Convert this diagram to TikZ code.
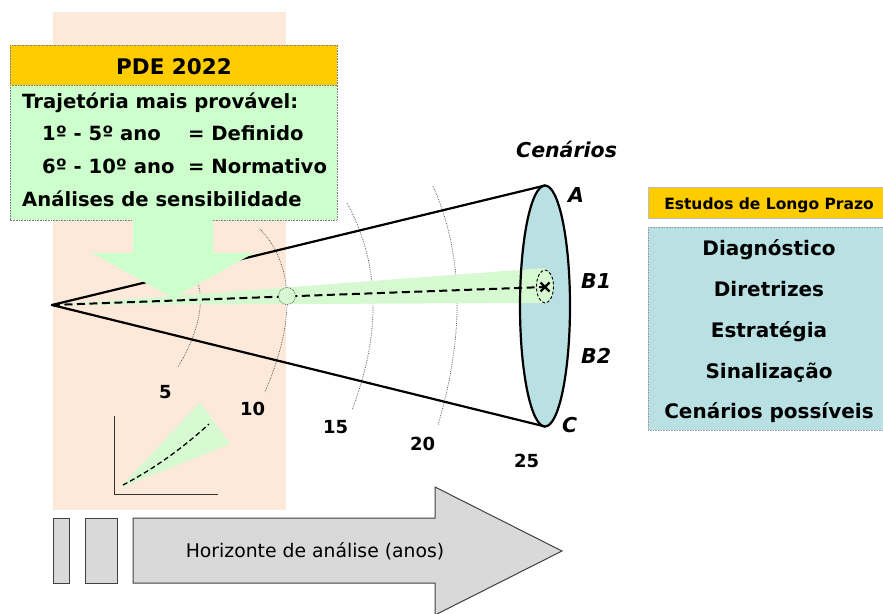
\documentclass[tikz,border=0pt]{standalone}
\usepackage{fontspec}
\setmainfont{DejaVu Sans}
\begin{document}
\begin{tikzpicture}[x=1pt,y=-1pt,
  txt/.style={inner sep=0pt,font=\bfseries\fontsize{19.6}{22}\selectfont},
  lbl/.style={inner sep=0pt,anchor=base west,font=\bfseries\itshape\fontsize{20.5}{24}\selectfont},
  num/.style={inner sep=0pt,anchor=base west,font=\bfseries\fontsize{18}{20}\selectfont},
  lst/.style={inner sep=0pt,anchor=base,font=\bfseries\fontsize{20}{24}\selectfont},
  arcline/.style={draw=black!75,line width=0.7pt,dash pattern=on 0.7pt off 1.1pt},
  coneline/.style={line width=2.2pt,line cap=round},
  graybox/.style={fill=boxgray,draw=black!75,line width=1pt}]
\definecolor{peach}{RGB}{253,233,217}
\definecolor{orng}{RGB}{255,204,0}
\definecolor{lgreen}{RGB}{204,255,204}
\definecolor{beam}{RGB}{214,249,209}
\definecolor{lblue}{RGB}{185,224,227}
\definecolor{boxgray}{RGB}{217,217,217}
\useasboundingbox (0,0) rectangle (883,613);
\clip (0,0) rectangle (883,613);
% background
\fill[peach] (53,12) rectangle (286,510);
% dotted arcs
\draw[arcline] (188,262) .. controls (207.3,288.3) and (204,323.3) .. (178,367);
\draw[arcline] (260,229) .. controls (294.3,265.3) and (296,319.7) .. (265,392);
\draw[arcline] (347,203) .. controls (380,263.3) and (381.7,332.3) .. (352,410);
\draw[arcline] (433,186) .. controls (463.3,254.3) and (465,334) .. (438,425);
% cone
\coordinate (apex) at (52,305);
\coordinate (etop) at (545,185.5);
\coordinate (ebot) at (545,426.5);
\fill[lblue] (545,306) ellipse [x radius=25, y radius=120.5];
\fill[beam] (apex) -- (545,268) -- (545,303) -- cycle;
\fill[beam] (545,286.5) ellipse [x radius=8.5, y radius=16.5];
\draw[line width=2.2pt] (545,306) ellipse [x radius=25, y radius=120.5];
\draw[coneline] (apex) -- (etop);
\draw[coneline] (apex) -- (ebot);
\coordinate (xm) at (545,287);
\draw[line width=2pt,dash pattern=on 8pt off 4.5pt] (apex) -- (xm);
\draw[black,line width=0.9pt,dash pattern=on 3pt off 2pt] (xm) ++(0,-0.5) ellipse [x radius=8.5, y radius=16.5];
\draw[line width=2.2pt] (540.5,282.5) -- (549.5,291.5) (540.5,291.5) -- (549.5,282.5);
\draw[arcline,fill=beam] (287,296) circle [radius=8.5];
% PDE box
\fill[lgreen] (10,85) rectangle (337,220);
\draw[black!50,line width=0.5pt,dash pattern=on 0.8pt off 0.8pt] (10,85) rectangle (337,220);
\fill[lgreen] (133,219) -- (213,219) -- (213,253) -- (254,253) -- (173,298) -- (92,253) -- (133,253) -- cycle;
\fill[orng] (10,45) rectangle (337,85);
\draw[black!50,line width=0.5pt,dash pattern=on 0.8pt off 0.8pt] (10,45) rectangle (337,85);
\node[inner sep=0pt,anchor=base,font=\bfseries\fontsize{21.5}{25}\selectfont] (pde) at (174,74) {PDE 2022};
\node[txt,anchor=base west] (t1) at (22,108) {Trajetória mais provável:};
\node[txt,anchor=base west] (t2) at (42,140) {\makebox[146pt][l]{1º - 5º ano}= Definido};
\node[txt,anchor=base west] (t3) at (42,173) {\makebox[146pt][l]{6º - 10º ano}= Normativo};
\node[txt,anchor=base west] (t4) at (22,206) {Análises de sensibilidade};
% labels
\node[lbl] (cen) at (516,157) {Cenários};
\node[lbl] (la) at (568,202) {A};
\node[lbl] (lb1) at (581,288) {B1};
\node[lbl] (lb2) at (581,363) {B2};
\node[lbl] (lc) at (562,432) {C};
\node[num] (n5) at (159,398) {5};
\node[num] (n10) at (240,415) {10};
\node[num] (n15) at (323,433) {15};
\node[num] (n20) at (410,450) {20};
\node[num] (n25) at (514,467) {25};
% inset chart
\fill[beam] (120,488) -- (200,402) -- (230,444) -- cycle;
\draw[black!80,line width=0.8pt] (114,416) -- (114,494) -- (218,494);
\draw[line width=1.3pt,dash pattern=on 5pt off 3pt] (123,485) .. controls (153,469.3) and (181.7,449) .. (209,424);
% right boxes
\fill[orng] (648,187) rectangle (883,218);
\draw[black!25,line width=0.6pt] (648,187) rectangle (883,218);
\node[inner sep=0pt,anchor=base,font=\bfseries\fontsize{15.5}{18}\selectfont] (est) at (769,209) {Estudos de Longo Prazo};
\fill[lblue] (648,227) rectangle (883,430);
\draw[black!40,line width=0.5pt,dash pattern=on 0.8pt off 0.8pt] (648,227) rectangle (883,430);
\node[lst] (r1) at (769,255) {Diagnóstico};
\node[lst] (r2) at (769,296) {Diretrizes};
\node[lst] (r3) at (769,337) {Estratégia};
\node[lst] (r4) at (769,378) {Sinalização};
\node[lst] (r5) at (769,418) {Cenários possíveis};
% bottom arrow
\draw[graybox] (53,518) rectangle (69,583);
\draw[graybox] (85,518) rectangle (117,583);
\draw[graybox] (133,518) -- (435,518) -- (435,487) -- (562,551) -- (435,615) -- (435,583) -- (133,583) -- cycle;
\node[inner sep=0pt,anchor=base,font=\fontsize{18.8}{22}\selectfont] (hor) at (315,557) {Horizonte de análise (anos)};
\end{tikzpicture}
\end{document}
